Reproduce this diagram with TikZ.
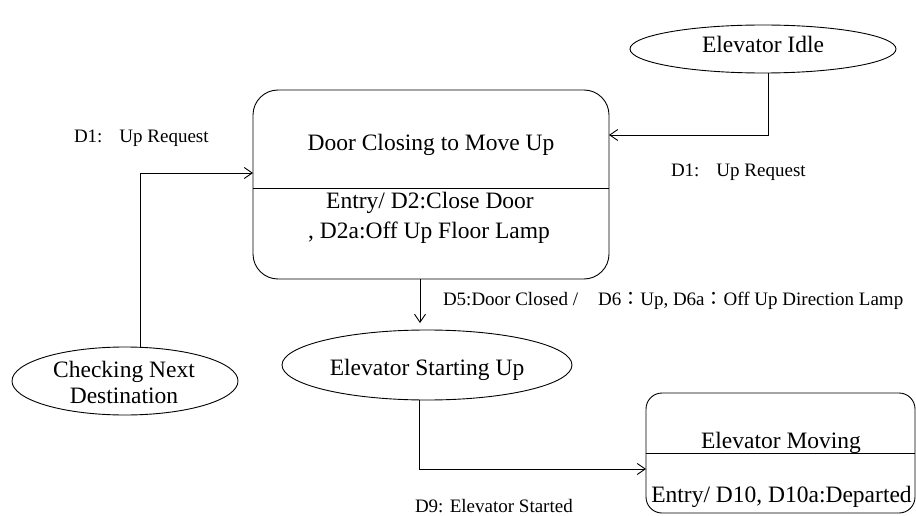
\documentclass[tikz,border=0pt]{standalone}
\usepackage{fontspec}
\setmainfont{Liberation Serif}
\newfontfamily\cjk{Noto Sans CJK TC}
\usetikzlibrary{arrows.meta,shapes.geometric}
\begin{document}
\begin{tikzpicture}[x=1pt,y=-1pt,
  every node/.style={inner sep=0pt, outer sep=0pt},
  line/.style={line width=0.9pt},
  arr/.style={line, -{Straight Barb[length=8pt,width=11pt,line width=0.9pt]}},
  stateell/.style={draw, line width=0.9pt, ellipse},
  statebox/.style={draw, line width=0.9pt, rectangle, rounded corners=#1},
  big/.style={font=\fontsize{23.5}{28}\selectfont, anchor=base},
  small/.style={font=\fontsize{19}{23}\selectfont, anchor=base west},
]
\useasboundingbox (0,0) rectangle (916,516);

% states
\node[stateell, minimum width=266pt, minimum height=48pt] (idle) at (763,49) {};
\node[big] (idleT) at (763,53) {Elevator Idle};

\node[statebox=25, minimum width=356pt, minimum height=189pt] (door) at (431,184.5) {};
\coordinate (doorDiv) at (431,188);
\draw[line] (door.west |- doorDiv) -- (door.east |- doorDiv);
\node[big] (doorT) at (431,151) {Door Closing to Move Up};
\node[big] (doorE1) at (430,208) {Entry/ D2:Close Door};
\node[big] (doorE2) at (429,238) {, D2a:Off Up Floor Lamp};

\node[stateell, minimum width=226pt, minimum height=68pt] (check) at (125,381) {};
\node[big] (checkT1) at (124,377) {Checking Next};
\node[big] (checkT2) at (124,403) {Destination};

\node[stateell, minimum width=290pt, minimum height=70pt] (start) at (427,365) {};
\node[big] (startT) at (427,375) {Elevator Starting Up};

\node[statebox=16, minimum width=269pt, minimum height=120pt] (moving) at (780.5,453) {};
\coordinate (movDiv) at (780,453);
\draw[line] (moving.west |- movDiv) -- (moving.east |- movDiv);
\node[big] (movT) at (781,448) {Elevator Moving};
\node[big] (movE) at (781.5,502) {Entry/ D10, D10a:Departed};

% transitions
\coordinate (bendIdle) at (768,135);
\draw[arr] (idle.south -| bendIdle) -- (bendIdle) -- (door.east |- bendIdle);

\coordinate (bendCheck) at (140,173);
\draw[arr] (check.north -| bendCheck) -- (bendCheck) -- (door.west |- bendCheck);

\coordinate (downTip) at (420,323);
\draw[arr] (door.south -| downTip) -- (downTip);

\coordinate (bendStart) at (419,469);
\draw[arr] (start.south -| bendStart) -- (bendStart) -- (moving.west |- bendStart);

% transition labels
\node[small] (lblIdle) at (671,176) {D1:\hspace{17pt}Up Request};
\node[small] (lblCheck) at (74,143) {D1:\hspace{17pt}Up Request};
\node[small] (lblDoor) at (443,305) {D5:Door Closed /\hspace{20pt}D6{\cjk ：}Up, D6a{\cjk ：}Off Up Direction Lamp};
\node[small] (lblStart) at (415,512) {D9: Elevator Started};
\end{tikzpicture}
\end{document}
